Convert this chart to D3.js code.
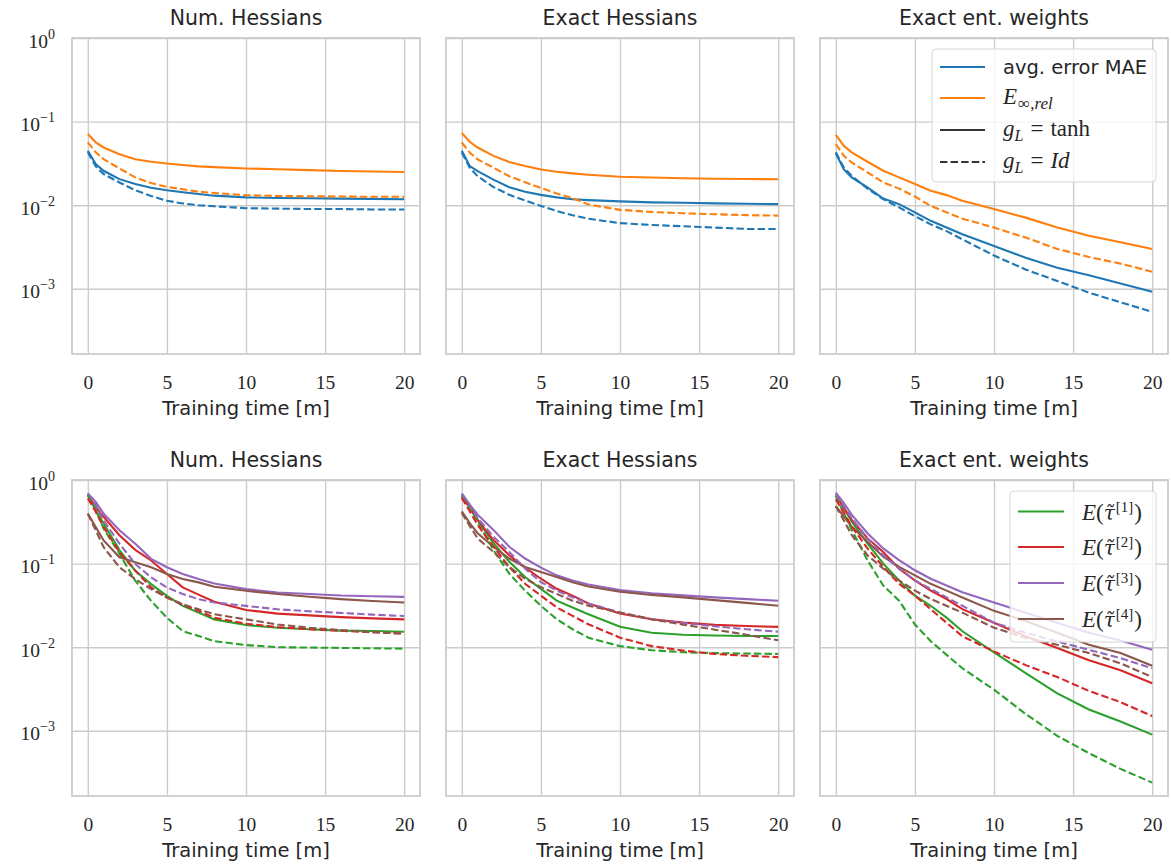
<!DOCTYPE html>
<meta charset="utf-8">
<style>
body { margin: 0; background: #fff; }
text { fill: #262626; }
</style>
<svg width="1171" height="865"></svg>
<script src="https://cdn.jsdelivr.net/npm/d3@7"></script>
<script>

var svg = d3.select("svg");

// training time [m] at which the errors were logged
var T = [0, 0.5, 1, 2, 3, 4, 5, 6, 7, 8, 10, 12, 14, 16, 18, 20];

var panelTitles = ["Num. Hessians", "Exact Hessians", "Exact ent. weights"];
var xTicks = [0, 5, 10, 15, 20];
var yTicks = [1, 0.1, 0.01, 0.001];
var yExp = ["0", "\u22121", "\u22122", "\u22123"];

// top row : avg. error MAE (blue) and E_inf,rel (orange), tanh = solid, Id = dashed
var numMaeTanh  = [0.0449, 0.031, 0.0258, 0.0205, 0.0179, 0.0162, 0.0151, 0.0143, 0.0136, 0.0130, 0.0124, 0.0122, 0.0121, 0.0120, 0.0119, 0.0118];
var numMaeId    = [0.0429, 0.0291, 0.0236, 0.0187, 0.0151, 0.0129, 0.0113, 0.0105, 0.0100, 0.0097, 0.0092, 0.0091, 0.0090, 0.0090, 0.0089, 0.0089];
var numErelTanh = [0.071, 0.0565, 0.049, 0.0407, 0.0355, 0.0331, 0.0316, 0.0302, 0.0291, 0.0285, 0.0275, 0.0269, 0.0263, 0.0257, 0.0253, 0.0249];
var numErelId   = [0.0565, 0.0429, 0.0356, 0.0275, 0.0215, 0.0184, 0.0166, 0.0155, 0.0145, 0.0140, 0.0132, 0.0129, 0.0128, 0.0127, 0.0126, 0.0126];

var exMaeTanh  = [0.0447, 0.0294, 0.0255, 0.0202, 0.0164, 0.0145, 0.0133, 0.0124, 0.0118, 0.0115, 0.0111, 0.0108, 0.0107, 0.0105, 0.0104, 0.0103];
var exMaeId    = [0.0427, 0.0281, 0.0222, 0.0165, 0.0133, 0.0114, 0.0098, 0.0085, 0.0076, 0.0069, 0.0061, 0.0058, 0.0056, 0.0054, 0.0052, 0.0052];
var exErelTanh = [0.0729, 0.0573, 0.049, 0.0389, 0.0328, 0.0294, 0.0267, 0.0251, 0.0240, 0.0231, 0.0219, 0.0214, 0.0210, 0.0207, 0.0206, 0.0204];
var exErelId   = [0.0562, 0.0426, 0.0353, 0.0281, 0.0222, 0.0188, 0.0161, 0.0138, 0.0122, 0.0102, 0.0088, 0.0083, 0.0080, 0.0078, 0.0076, 0.0075];

var entMaeTanh  = [0.0417, 0.027, 0.0215, 0.0163, 0.0120, 0.0103, 0.0082, 0.0065, 0.0054, 0.0045, 0.00325, 0.00235, 0.00179, 0.00145, 0.00116, 0.00092];
var entMaeId    = [0.0429, 0.0283, 0.0225, 0.0158, 0.0118, 0.0094, 0.0074, 0.0059, 0.0049, 0.0039, 0.0025, 0.0017, 0.00124, 0.0009, 0.00069, 0.00053];
var entErelTanh = [0.0692, 0.0515, 0.0429, 0.0331, 0.0258, 0.0215, 0.0179, 0.0149, 0.0132, 0.0113, 0.0090, 0.0071, 0.0054, 0.0043, 0.0036, 0.0030];
var entErelId   = [0.054, 0.0391, 0.0325, 0.0247, 0.0187, 0.0158, 0.0127, 0.0098, 0.0082, 0.0069, 0.0054, 0.0041, 0.0030, 0.0024, 0.0020, 0.0016];

// bottom row : E(tau^[k]) for k = 1..4
var numT1Tanh = [0.661, 0.437, 0.302, 0.145, 0.0822, 0.0569, 0.0412, 0.0312, 0.0259, 0.0215, 0.0184, 0.0171, 0.0164, 0.0158, 0.0156, 0.0153];
var numT1Id   = [0.661, 0.437, 0.262, 0.131, 0.0624, 0.0358, 0.0225, 0.0156, 0.0136, 0.0118, 0.0106, 0.0100, 0.0099, 0.0098, 0.0097, 0.0096];
var numT2Tanh = [0.661, 0.478, 0.363, 0.218, 0.146, 0.109, 0.0752, 0.0519, 0.0425, 0.0350, 0.0279, 0.0252, 0.0240, 0.0229, 0.0221, 0.0215];
var numT2Id   = [0.603, 0.417, 0.274, 0.137, 0.0824, 0.0519, 0.0393, 0.0321, 0.0272, 0.0225, 0.0191, 0.0174, 0.0164, 0.0157, 0.0151, 0.0145];
var numT3Tanh = [0.692, 0.548, 0.396, 0.25, 0.173, 0.114, 0.0904, 0.0752, 0.0653, 0.0579, 0.0495, 0.0452, 0.0432, 0.0415, 0.0407, 0.040];
var numT3Id   = [0.692, 0.501, 0.33, 0.173, 0.0991, 0.0684, 0.0519, 0.0432, 0.0375, 0.0342, 0.0312, 0.0284, 0.0269, 0.0257, 0.0245, 0.0236];
var numT4Tanh = [0.396, 0.274, 0.189, 0.119, 0.104, 0.0904, 0.0752, 0.0653, 0.0596, 0.0528, 0.0473, 0.0432, 0.0401, 0.0376, 0.0357, 0.0342];
var numT4Id   = [0.396, 0.25, 0.157, 0.0904, 0.0653, 0.0495, 0.0393, 0.0327, 0.0284, 0.0248, 0.0215, 0.0187, 0.0171, 0.016, 0.0151, 0.0145];

var exT1Tanh = [0.671, 0.485, 0.334, 0.175, 0.105, 0.069, 0.0499, 0.036, 0.0299, 0.0248, 0.0176, 0.0149, 0.0141, 0.0138, 0.0136, 0.0136];
var exT1Id   = [0.64, 0.462, 0.319, 0.145, 0.0757, 0.0475, 0.0313, 0.0216, 0.0164, 0.013, 0.0103, 0.0092, 0.0087, 0.0085, 0.0084, 0.0083];
var exT2Tanh = [0.64, 0.462, 0.334, 0.191, 0.126, 0.0895, 0.0659, 0.0499, 0.0414, 0.0334, 0.0253, 0.0216, 0.0197, 0.0185, 0.0179, 0.0175];
var exT2Id   = [0.611, 0.422, 0.291, 0.159, 0.0912, 0.0573, 0.0414, 0.0299, 0.0237, 0.0188, 0.013, 0.0103, 0.0091, 0.0083, 0.0079, 0.0076];
var exT3Tanh = [0.69, 0.508, 0.385, 0.253, 0.159, 0.115, 0.0895, 0.0723, 0.0628, 0.0562, 0.0484, 0.0442, 0.0417, 0.0394, 0.0376, 0.036];
var exT3Id   = [0.671, 0.501, 0.35, 0.21, 0.138, 0.0871, 0.06, 0.0475, 0.0395, 0.0334, 0.026, 0.0216, 0.0195, 0.0178, 0.0164, 0.0153];
var exT4Tanh = [0.422, 0.305, 0.231, 0.159, 0.115, 0.0912, 0.0794, 0.069, 0.06, 0.0532, 0.0462, 0.0422, 0.0394, 0.0366, 0.0339, 0.0313];
var exT4Id   = [0.403, 0.282, 0.2, 0.138, 0.0912, 0.0659, 0.0522, 0.0434, 0.036, 0.0313, 0.026, 0.0216, 0.0186, 0.0162, 0.0141, 0.0121];

var entT1Tanh = [0.671, 0.465, 0.32, 0.175, 0.1, 0.0628, 0.0413, 0.0313, 0.0226, 0.0155, 0.0087, 0.0049, 0.0028, 0.0018, 0.00129, 0.0009];
var entT1Id   = [0.643, 0.404, 0.254, 0.11, 0.0546, 0.036, 0.0187, 0.0118, 0.0081, 0.0056, 0.0031, 0.00159, 0.00087, 0.00054, 0.00035, 0.00024];
var entT2Tanh = [0.643, 0.465, 0.335, 0.201, 0.138, 0.0871, 0.0628, 0.0475, 0.0377, 0.0285, 0.0196, 0.0135, 0.0098, 0.0070, 0.0053, 0.0037];
var entT2Id   = [0.586, 0.407, 0.278, 0.152, 0.0912, 0.0573, 0.0413, 0.0285, 0.0196, 0.0135, 0.0089, 0.0061, 0.0044, 0.0030, 0.0022, 0.0015];
var entT3Tanh = [0.708, 0.533, 0.385, 0.231, 0.152, 0.11, 0.0832, 0.0658, 0.0546, 0.0454, 0.0343, 0.0259, 0.0196, 0.0149, 0.012, 0.0093];
var entT3Id   = [0.671, 0.486, 0.351, 0.201, 0.126, 0.0871, 0.0628, 0.0498, 0.0394, 0.0313, 0.0196, 0.0149, 0.0117, 0.0093, 0.0074, 0.0056];
var entT4Tanh = [0.486, 0.368, 0.278, 0.183, 0.121, 0.0912, 0.0723, 0.0573, 0.0475, 0.0394, 0.0272, 0.0206, 0.0149, 0.0107, 0.0085, 0.006];
var entT4Id   = [0.486, 0.331, 0.22, 0.126, 0.0871, 0.0628, 0.0475, 0.0377, 0.0313, 0.0259, 0.0171, 0.0129, 0.0107, 0.0085, 0.0064, 0.0044];

var C = {blue: "#1f77b4", orange: "#ff7f0e", green: "#2ca02c", red: "#d62728", purple: "#9467bd", brown: "#8c564b"};

var topPanels = [
  [[numMaeTanh, C.blue, 0], [numErelTanh, C.orange, 0], [numMaeId, C.blue, 1], [numErelId, C.orange, 1]],
  [[exMaeTanh, C.blue, 0], [exErelTanh, C.orange, 0], [exMaeId, C.blue, 1], [exErelId, C.orange, 1]],
  [[entMaeTanh, C.blue, 0], [entErelTanh, C.orange, 0], [entMaeId, C.blue, 1], [entErelId, C.orange, 1]]
];
var botPanels = [
  [[numT1Tanh, C.green, 0], [numT2Tanh, C.red, 0], [numT3Tanh, C.purple, 0], [numT4Tanh, C.brown, 0],
   [numT1Id, C.green, 1], [numT2Id, C.red, 1], [numT3Id, C.purple, 1], [numT4Id, C.brown, 1]],
  [[exT1Tanh, C.green, 0], [exT2Tanh, C.red, 0], [exT3Tanh, C.purple, 0], [exT4Tanh, C.brown, 0],
   [exT1Id, C.green, 1], [exT2Id, C.red, 1], [exT3Id, C.purple, 1], [exT4Id, C.brown, 1]],
  [[entT1Tanh, C.green, 0], [entT2Tanh, C.red, 0], [entT3Tanh, C.purple, 0], [entT4Tanh, C.brown, 0],
   [entT1Id, C.green, 1], [entT2Id, C.red, 1], [entT3Id, C.purple, 1], [entT4Id, C.brown, 1]]
];

var W = 348, H = 316;
var colX = [72, 446, 820];
var rowY = [38, 480];

var x = d3.scaleLinear().domain([-1, 21]).range([0, W]);
var y = d3.scaleLog().domain([Math.pow(10, -3.78), 1]).range([H, 0]);

var line = d3.line()
    .x(function(d, i) { return x(T[i]); })
    .y(function(d) { return y(d); });

var sans = "'DejaVu Sans', sans-serif";
var serif = "'Liberation Serif', serif";

function drawPanel(row, col, series) {
  var g = svg.append("g").attr("transform", "translate(" + colX[col] + "," + rowY[row] + ")");

  // grid lines from the axes
  var gx = g.append("g").attr("transform", "translate(0," + H + ")")
      .call(d3.axisBottom(x).tickValues(xTicks).tickSize(-H).tickFormat(""));
  var gy = g.append("g")
      .call(d3.axisLeft(y).tickValues(yTicks).tickSize(-W).tickFormat(""));
  [gx, gy].forEach(function(a) {
    a.select(".domain").remove();
    a.selectAll(".tick line").attr("stroke", "#cccccc").attr("stroke-width", 1.4);
  });

  gx.selectAll(".tick").append("text")
      .attr("y", 35)
      .attr("text-anchor", "middle")
      .style("font-family", serif).style("font-size", "19.5px")
      .attr("fill", "#262626")
      .text(function(d) { return d; });

  if (col == 0) {
    gy.selectAll(".tick").each(function(d, i) {
      var t = d3.select(this).append("text")
          .attr("x", -17).attr("y", 9)
          .attr("text-anchor", "end")
          .style("font-family", serif).style("font-size", "19.5px")
          .attr("fill", "#262626");
      t.append("tspan").text("10");
      t.append("tspan").attr("dy", -9).style("font-size", "14px").text(yExp[i]);
    });
  }

  // frame
  g.append("rect").attr("width", W).attr("height", H)
      .attr("fill", "none").attr("stroke", "#cccccc").attr("stroke-width", 1.8);

  series.forEach(function(s) {
    g.append("path")
        .attr("d", line(s[0]))
        .attr("fill", "none")
        .attr("stroke", s[1])
        .attr("stroke-width", 2.1)
        .attr("stroke-dasharray", s[2] ? "7.4,3.2" : null);
  });

  g.append("text")
      .attr("x", W / 2).attr("y", -13)
      .attr("text-anchor", "middle")
      .style("font-family", sans).style("font-size", "20.5px")
      .attr("fill", "#262626")
      .text(panelTitles[col]);

  g.append("text")
      .attr("x", W / 2).attr("y", H + 61)
      .attr("text-anchor", "middle")
      .style("font-family", sans).style("font-size", "19.5px")
      .attr("fill", "#262626")
      .text("Training time [m]");

  return g;
}

var panels = [];
topPanels.forEach(function(s, c) { panels.push(drawPanel(0, c, s)); });
botPanels.forEach(function(s, c) { panels.push(drawPanel(1, c, s)); });

// legends
function legendBox(g, x0, y0, w, h) {
  g.append("rect").attr("x", x0).attr("y", y0).attr("width", w).attr("height", h)
      .attr("rx", 4).attr("fill", "#fff").attr("fill-opacity", 0.8)
      .attr("stroke", "#d6d6d6").attr("stroke-width", 1);
}

function legendLine(g, x0, yy, len, color, dashed) {
  g.append("line").attr("x1", x0).attr("x2", x0 + len).attr("y1", yy).attr("y2", yy)
      .attr("stroke", color).attr("stroke-width", 2.1)
      .attr("stroke-dasharray", dashed ? "7.4,3.2" : null);
}

var lgTop = panels[2];
legendBox(lgTop, 112, 11, 224, 133);
var topRows = [29, 60, 92, 124];
legendLine(lgTop, 120, topRows[0], 45, C.blue, 0);
legendLine(lgTop, 120, topRows[1], 45, C.orange, 0);
legendLine(lgTop, 120, topRows[2], 45, "#333", 0);
legendLine(lgTop, 120, topRows[3], 45, "#333", 1);

lgTop.append("text").attr("x", 183).attr("y", topRows[0] + 7)
    .style("font-family", sans).style("font-size", "19.5px").text("avg. error MAE");

var t1 = lgTop.append("text").attr("x", 183).attr("y", topRows[1] + 6)
    .style("font-family", serif).style("font-size", "23px");
t1.append("tspan").style("font-style", "italic").text("E");
t1.append("tspan").attr("dy", 5).attr("dx", 1).style("font-size", "17px").text("\u221e,");
t1.append("tspan").style("font-size", "17px").style("font-style", "italic").text("rel");

[["tanh", 0], ["Id", 1]].forEach(function(r, i) {
  var t = lgTop.append("text").attr("x", 183).attr("y", topRows[2 + i] + 6)
      .style("font-family", serif).style("font-size", "23px");
  t.append("tspan").style("font-style", "italic").text("g");
  t.append("tspan").attr("dy", 5).style("font-size", "16px").style("font-style", "italic").text("L");
  t.append("tspan").attr("dy", -5).attr("dx", 7).text("=");
  t.append("tspan").attr("dx", 7).style("font-style", r[1] ? "italic" : "normal").text(r[0]);
});

var lgBot = panels[5];
legendBox(lgBot, 190, 11, 146, 151);
var botRows = [31.5, 67, 103, 139];
var botColors = [C.green, C.red, C.purple, C.brown];
botRows.forEach(function(yy, i) {
  legendLine(lgBot, 198, yy, 46, botColors[i], 0);
  var t = lgBot.append("text").attr("x", 262).attr("y", yy + 8)
      .style("font-family", serif).style("font-size", "23px");
  t.append("tspan").style("font-style", "italic").text("E");
  t.append("tspan").text("(");
  t.append("tspan").style("font-family", "'DejaVu Serif', serif").style("font-size", "20px")
      .style("font-style", "italic").text("\u03c4\u0303");
  t.append("tspan").attr("dx", 1).attr("dy", -8).style("font-size", "15px").text("[" + (i + 1) + "]");
  t.append("tspan").attr("dx", 1).attr("dy", 8).text(")");
});

</script>
